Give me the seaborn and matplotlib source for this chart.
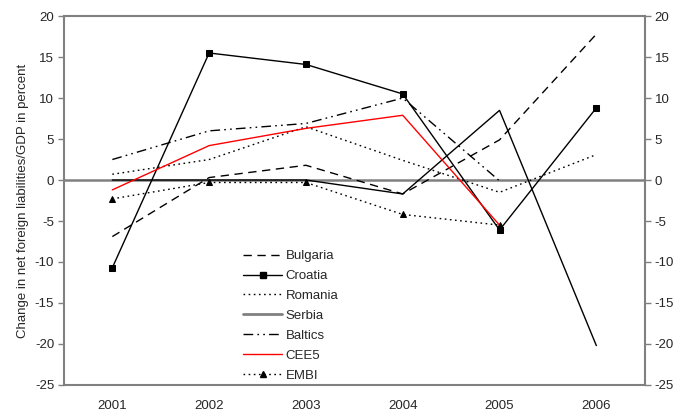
import matplotlib
matplotlib.use("Agg")
import matplotlib.pyplot as plt
import seaborn as sns
import pandas as pd
import numpy as np
from matplotlib.lines import Line2D

years = ["2001", "2002", "2003", "2004", "2005", "2006"]
bulgaria = [-6.9, 0.3, 1.8, -1.7, 4.9, 17.8]
croatia = [-10.7, 15.5, 14.1, 10.5, -6.1, 8.8]
romania = [0.7, 2.5, 6.5, 2.4, -1.5, 3.1]
serbia = [0.0, 0.0, 0.0, -1.7, 8.5, -20.2]
baltics = [2.5, 6.0, 6.9, 10.0, -0.1, np.nan]
cee5 = [-1.2, 4.2, 6.3, 7.9, -5.5, np.nan]
embi = [-2.3, -0.3, -0.3, -4.2, -5.5, np.nan]

series = {
    "Bulgaria": bulgaria, "Croatia": croatia, "Romania": romania,
    "Serbia": serbia, "Baltics": baltics, "CEE5": cee5, "EMBI": embi,
}
styles = {
    "Bulgaria": dict(color="black", dashes=(6, 4), marker=None),
    "Croatia": dict(color="black", dashes="", marker="s"),
    "Romania": dict(color="black", dashes=(1.2, 2.5), marker=None),
    "Serbia": dict(color="black", dashes="", marker=None),
    "Baltics": dict(color="black", dashes=(7, 3, 1.2, 3, 1.2, 3), marker=None),
    "CEE5": dict(color="red", dashes="", marker=None),
    "EMBI": dict(color="black", dashes=(1.2, 2.5), marker="^"),
}

sns.set_style("white")
plt.rcParams["font.family"] = ["Liberation Sans", "DejaVu Sans"]
plt.rcParams["axes.unicode_minus"] = False

fig = plt.figure(figsize=(6.73, 4.13), dpi=100)
ax = fig.add_axes([0.095, 0.068, 0.863, 0.893])

x = np.arange(len(years))
gray = "#808080"
ax.axhline(0, color=gray, lw=1.8, zorder=1)

handles = []
for name, vals in series.items():
    st = styles[name]
    df = pd.DataFrame({"x": x, "y": vals}).dropna()
    kw = {}
    if st["dashes"] != "":
        kw["dashes"] = [st["dashes"]]
    sns.lineplot(data=df.assign(s=name), x="x", y="y", style="s", ax=ax,
                 color=st["color"], lw=1.0, marker=st["marker"] if st["marker"] else None,
                 markersize=5, markeredgecolor="black", markerfacecolor="black",
                 legend=False, zorder=3, **kw)
    ls = (0, st["dashes"]) if st["dashes"] != "" else "-"
    hc = gray if name == "Serbia" else st["color"]
    hlw = 2.0 if name == "Serbia" else 1.0
    handles.append(Line2D([], [], color=hc, lw=hlw, linestyle=ls,
                          marker=st["marker"], markersize=5,
                          markerfacecolor="black", markeredgecolor="black", label=name))

ax.set_xlim(-0.5, 5.5)
ax.set_ylim(-25, 20)
ax.set_yticks(np.arange(-25, 21, 5))
ax.set_xticks(np.arange(0.5, 5.0, 1.0))
ax.set_xticklabels([])
ax.set_xticks(x, minor=True)
ax.set_xticklabels(years, minor=True)
ax.tick_params(axis="x", which="minor", length=0, pad=11, labelsize=9.5)
ax.tick_params(axis="x", which="major", length=4, width=1, color=gray, direction="out")
ax.tick_params(axis="y", length=4, width=1, color=gray, direction="out", labelsize=9.5,
               pad=3, left=True, right=True, labelleft=True, labelright=True)
for s in ax.spines.values():
    s.set_color(gray)
    s.set_linewidth(1.5)
ax.set_xlabel("")
ax.set_ylabel("Change in net foreign liabilities/GDP in percent", fontsize=9.5, labelpad=4)

leg = ax.legend(handles=handles, loc="upper left", bbox_to_anchor=(0.3, 0.38),
                frameon=False, fontsize=9.5, handlelength=2.9, handletextpad=0.3,
                labelspacing=0.58, borderaxespad=0)

fig.savefig("out.png", dpi=100)
